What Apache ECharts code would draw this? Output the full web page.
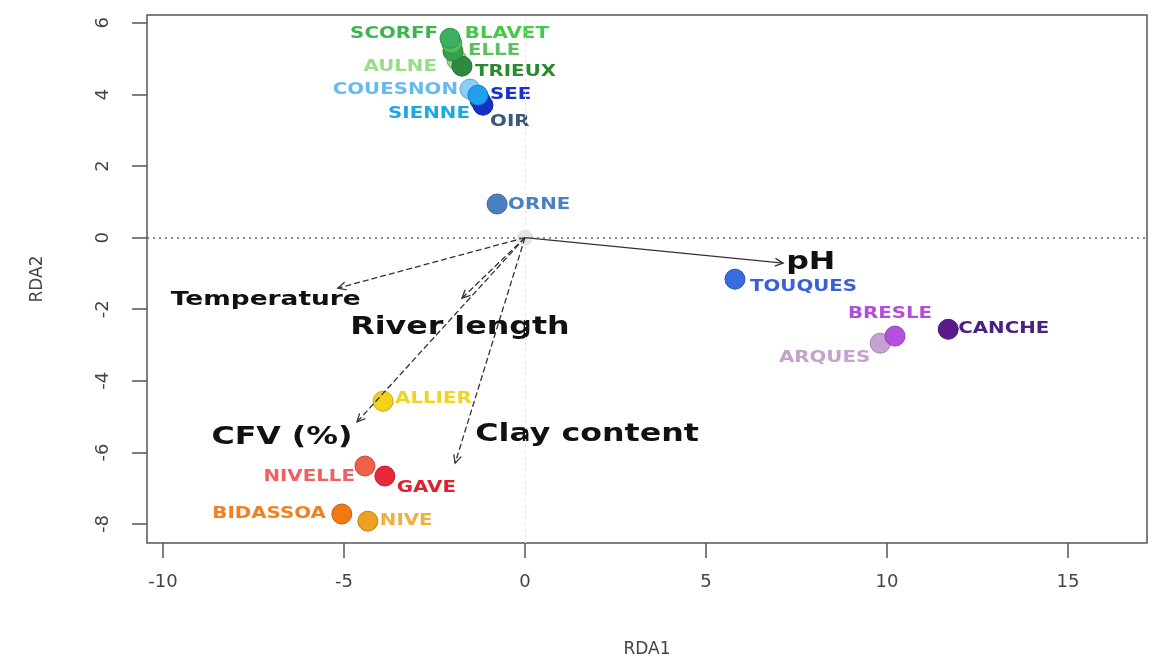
<!DOCTYPE html>
<html>
<head>
<meta charset="utf-8">
<script src="https://cdn.jsdelivr.net/npm/echarts@6/dist/echarts.min.js"></script>
<style>
  html, body { margin: 0; padding: 0; background: #ffffff; }
  #chart { width: 1162px; height: 663px; }
</style>
</head>
<body>
<div id="chart"></div>
<script>
// ---------- data ----------
const sites = ['AULNE', 'TRIEUX', 'ELLE', 'BLAVET', 'SCORFF', 'COUESNON', 'OIR', 'SEE', 'SIENNE',
  'ORNE', 'TOUQUES', 'ARQUES', 'BRESLE', 'CANCHE', 'ALLIER', 'NIVELLE', 'GAVE', 'BIDASSOA', 'NIVE'];
const siteRDA1 = [-1.88, -1.74, -1.99, -2.02, -2.07, -1.52, -1.24, -1.16, -1.30,
  -0.77, 5.80, 9.81, 10.22, 11.69, -3.92, -4.42, -3.87, -5.06, -4.34];
const siteRDA2 = [4.96, 4.79, 5.21, 5.43, 5.57, 4.15, 3.84, 3.70, 3.98,
  0.94, -1.16, -2.95, -2.75, -2.56, -4.57, -6.38, -6.66, -7.72, -7.92];

const variables = ['pH', 'Temperature', 'River length', 'CFV (%)', 'Clay content'];
const varRDA1 = [7.13, -5.17, -1.74, -4.64, -1.93];
const varRDA2 = [-0.71, -1.41, -1.69, -5.15, -6.30];

const centroid = [0, 0];

const xTicks = [-10, -5, 0, 5, 10, 15];
const yTicks = [-8, -6, -4, -2, 0, 2, 4, 6];
const xRange = [-10.44, 17.18];
const yRange = [-8.53, 6.22];

// ---------- styles / layout ----------
const dotColors = ['#8fd48a', '#2d8a3e', '#36a050', '#4cc050', '#3cb062', '#87cefa', '#2c4f80', '#1530c8', '#1e9ff0',
  '#4a80c0', '#3a6ae0', '#c8a0d8', '#b450e0', '#5a1a8c', '#f2d21a', '#f06048', '#e82838', '#f07a10', '#f0a020'];
const labelColors = ['#98dc8c', '#2a8a30', '#5cc060', '#48c848', '#3cb450', '#66bbee', '#3a5878', '#1a30d0', '#1fa8e0',
  '#4a80c0', '#3a60d8', '#c8a0d0', '#b050d8', '#4a2080', '#f0d420', '#f06060', '#e02030', '#f08020', '#f0b040'];
// [align, dx, dy] in pixels relative to the point
const labelLayout = [
  ['right', -20, 7], ['left', 13, 6], ['left', 15, 0], ['left', 13, -9], ['right', -12, -4],
  ['right', -12, 1], ['left', 10, 22], ['left', 7, -10], ['right', -8, 19],
  ['left', 11, 1], ['left', 15, 8], ['right', -10, 15], ['center', -5, -22], ['left', 10, 0],
  ['left', 12, -2], ['right', -10, 11], ['left', 12, 12], ['right', -16, 0], ['left', 12, 0]
];
// variable labels: [align, dx, dy, fontSize]
const varLabelLayout = [
  ['left', 3, 0, 24], ['center', -72, 12, 20], ['center', -2, 30, 24], ['center', -75, 16, 24], ['center', 132, -28, 24]
];
const varDash = [null, [6, 3], [6, 3], [6, 3], [6, 3]];
const STRETCH = 1.32;
const FONT = '"DejaVu Sans", Verdana, sans-serif';

function darker(hex, f) {
  const n = parseInt(hex.slice(1), 16);
  const r = Math.round(((n >> 16) & 255) * f), g = Math.round(((n >> 8) & 255) * f), b = Math.round((n & 255) * f);
  return 'rgb(' + r + ',' + g + ',' + b + ')';
}

const siteData = sites.map((s, i) => ({
  name: s,
  value: [siteRDA1[i], siteRDA2[i]],
  itemStyle: { color: dotColors[i], borderColor: darker(dotColors[i], 0.8), borderWidth: 1, opacity: 1 }
}));
const siteLabelData = sites.map((s, i) => [siteRDA1[i], siteRDA2[i], i]);
const varData = variables.map((v, i) => [varRDA1[i], varRDA2[i], i]);

const chart = echarts.init(document.getElementById('chart'), null, { renderer: 'canvas' });

const option = {
  animation: false,
  backgroundColor: '#ffffff',
  grid: { left: 147, top: 15, width: 1000, height: 528, show: true, borderColor: '#555', borderWidth: 1.5, backgroundColor: 'transparent' },
  xAxis: {
    type: 'value', min: xRange[0], max: xRange[1],
    name: 'RDA1', nameLocation: 'middle', nameGap: 98,
    nameTextStyle: { fontFamily: FONT, fontSize: 17, color: '#444' },
    axisLine: { show: false, onZero: false }, splitLine: { show: false },
    axisTick: { show: true, inside: false, length: 15, customValues: xTicks, lineStyle: { color: '#555', width: 1.5 } },
    axisLabel: { customValues: xTicks, margin: 30, fontFamily: FONT, fontSize: 18, color: '#444' }
  },
  yAxis: {
    type: 'value', min: yRange[0], max: yRange[1],
    name: 'RDA2', nameLocation: 'middle', nameGap: 101, nameRotate: 90,
    nameTextStyle: { fontFamily: FONT, fontSize: 17, color: '#444' },
    axisLine: { show: false, onZero: false }, splitLine: { show: false },
    axisTick: { show: true, inside: false, length: 15, customValues: yTicks, lineStyle: { color: '#555', width: 1.5 } },
    axisLabel: { customValues: yTicks, rotate: 90, margin: 35, fontFamily: FONT, fontSize: 18, color: '#444' }
  },
  series: [
    {
      type: 'scatter', name: 'centroid', z: 1,
      data: [centroid], symbolSize: 16,
      itemStyle: { color: 'rgba(215,215,215,0.8)' },
      markLine: {
        silent: true, symbol: ['none', 'none'], label: { show: false }, animation: false,
        data: [
          { yAxis: 0, lineStyle: { type: [2, 4], color: '#666', width: 1.6 } },
          { xAxis: 0, lineStyle: { type: [2, 4], color: '#e2e2e2', width: 1.2 } }
        ]
      }
    },
    {
      type: 'scatter', name: 'sites', z: 2,
      data: siteData, symbol: 'circle', symbolSize: 20
    },
    {
      type: 'custom', name: 'arrows', z: 3,
      data: varData,
      renderItem: function (params, api) {
        const i = api.value(2);
        const o = api.coord(centroid);
        const t = api.coord([api.value(0), api.value(1)]);
        const ang = Math.atan2(t[1] - o[1], t[0] - o[0]);
        const hl = 9, ha = 0.45;
        const h1 = [t[0] - hl * Math.cos(ang - ha), t[1] - hl * Math.sin(ang - ha)];
        const h2 = [t[0] - hl * Math.cos(ang + ha), t[1] - hl * Math.sin(ang + ha)];
        const lay = varLabelLayout[i];
        const stroke = { stroke: '#333', lineWidth: 1.3, fill: null };
        return {
          type: 'group',
          children: [
            { type: 'line', shape: { x1: o[0], y1: o[1], x2: t[0], y2: t[1] }, style: Object.assign({ lineDash: varDash[i] }, stroke) },
            { type: 'polyline', shape: { points: [h1, t, h2] }, style: Object.assign({}, stroke) },
            {
              type: 'text', x: t[0] + lay[1], y: t[1] + lay[2], scaleX: STRETCH, scaleY: 1,
              style: { text: variables[i], fill: '#111', font: 'bold ' + lay[3] + 'px ' + FONT, textAlign: lay[0], textVerticalAlign: 'middle' }
            }
          ]
        };
      }
    },
    {
      type: 'custom', name: 'siteLabels', z: 4,
      data: siteLabelData,
      renderItem: function (params, api) {
        const i = api.value(2);
        const p = api.coord([api.value(0), api.value(1)]);
        const lay = labelLayout[i];
        return {
          type: 'text', x: p[0] + lay[1], y: p[1] + lay[2], scaleX: STRETCH, scaleY: 1,
          style: { text: sites[i], fill: labelColors[i], font: 'bold 15px ' + FONT, textAlign: lay[0], textVerticalAlign: 'middle' }
        };
      }
    }
  ]
};
chart.setOption(option);
</script>
</body>
</html>
